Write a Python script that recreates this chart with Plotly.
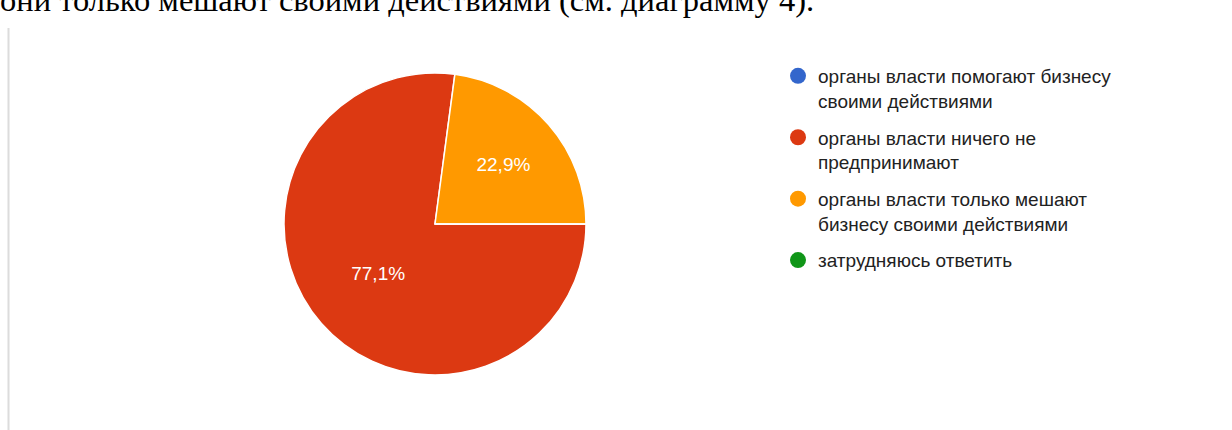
import plotly.graph_objects as go

categories = [
    "органы власти помогают бизнесу<br>своими действиями",
    "органы власти ничего не<br>предпринимают",
    "органы власти только мешают<br>бизнесу своими действиями",
    "затрудняюсь ответить",
]
values = [0, 77.1, 22.9, 0]
colors = ["#3366cc", "#dc3912", "#ff9900", "#109618"]
heading = "они только мешают своими действиями (см. диаграмму 4)."

W, H = 1232, 430
cx, cy, r = 435, 224, 151

fig = go.Figure()
fig.add_trace(go.Pie(
    labels=categories, values=values, sort=False, direction="clockwise",
    rotation=90, marker=dict(colors=colors, line=dict(color="white", width=1.5)),
    texttemplate="%{percent:.1%}", textposition="inside",
    insidetextorientation="horizontal",
    textfont=dict(color="white", size=19, family="Liberation Sans, Arial"),
    showlegend=False, hoverinfo="label+percent",
    domain=dict(x=[(cx - r) / W, (cx + r) / W], y=[1 - (cy + r) / H, 1 - (cy - r) / H]),
))
for i, (name, col) in enumerate(zip(categories, colors)):
    fig.add_trace(go.Scatter(
        x=[None], y=[None], mode="markers", name=name,
        marker=dict(color=col, size=19, symbol="circle"),
        legendgroup=f"g{i}", showlegend=True,
    ))

fig.add_annotation(
    text=heading, xref="paper", yref="paper", x=-2 / W, y=1 + 0.5 / H,
    xanchor="left", yanchor="middle", showarrow=False,
    font=dict(family="Liberation Serif, Times New Roman", size=32.5, color="black"),
)
fig.add_shape(type="line", xref="paper", yref="paper",
              x0=8.5 / W, x1=8.5 / W, y0=0, y1=1 - 28 / H,
              line=dict(color="#dcdcdc", width=2))

fig.update_layout(
    width=W, height=H, margin=dict(l=0, r=0, t=0, b=0),
    paper_bgcolor="white", plot_bgcolor="white",
    separators=", ",
    xaxis=dict(visible=False), yaxis=dict(visible=False),
    legend=dict(
        x=778 / W, y=1 - 57 / H, xanchor="left", yanchor="top",
        font=dict(family="Liberation Sans, Arial", size=19, color="#222222"),
        valign="top", tracegroupgap=9, itemwidth=30,
        bgcolor="rgba(0,0,0,0)",
    ),
)
fig.write_html("out.html", config={"displayModeBar": False},
               post_script="document.body.style.margin='0';")
